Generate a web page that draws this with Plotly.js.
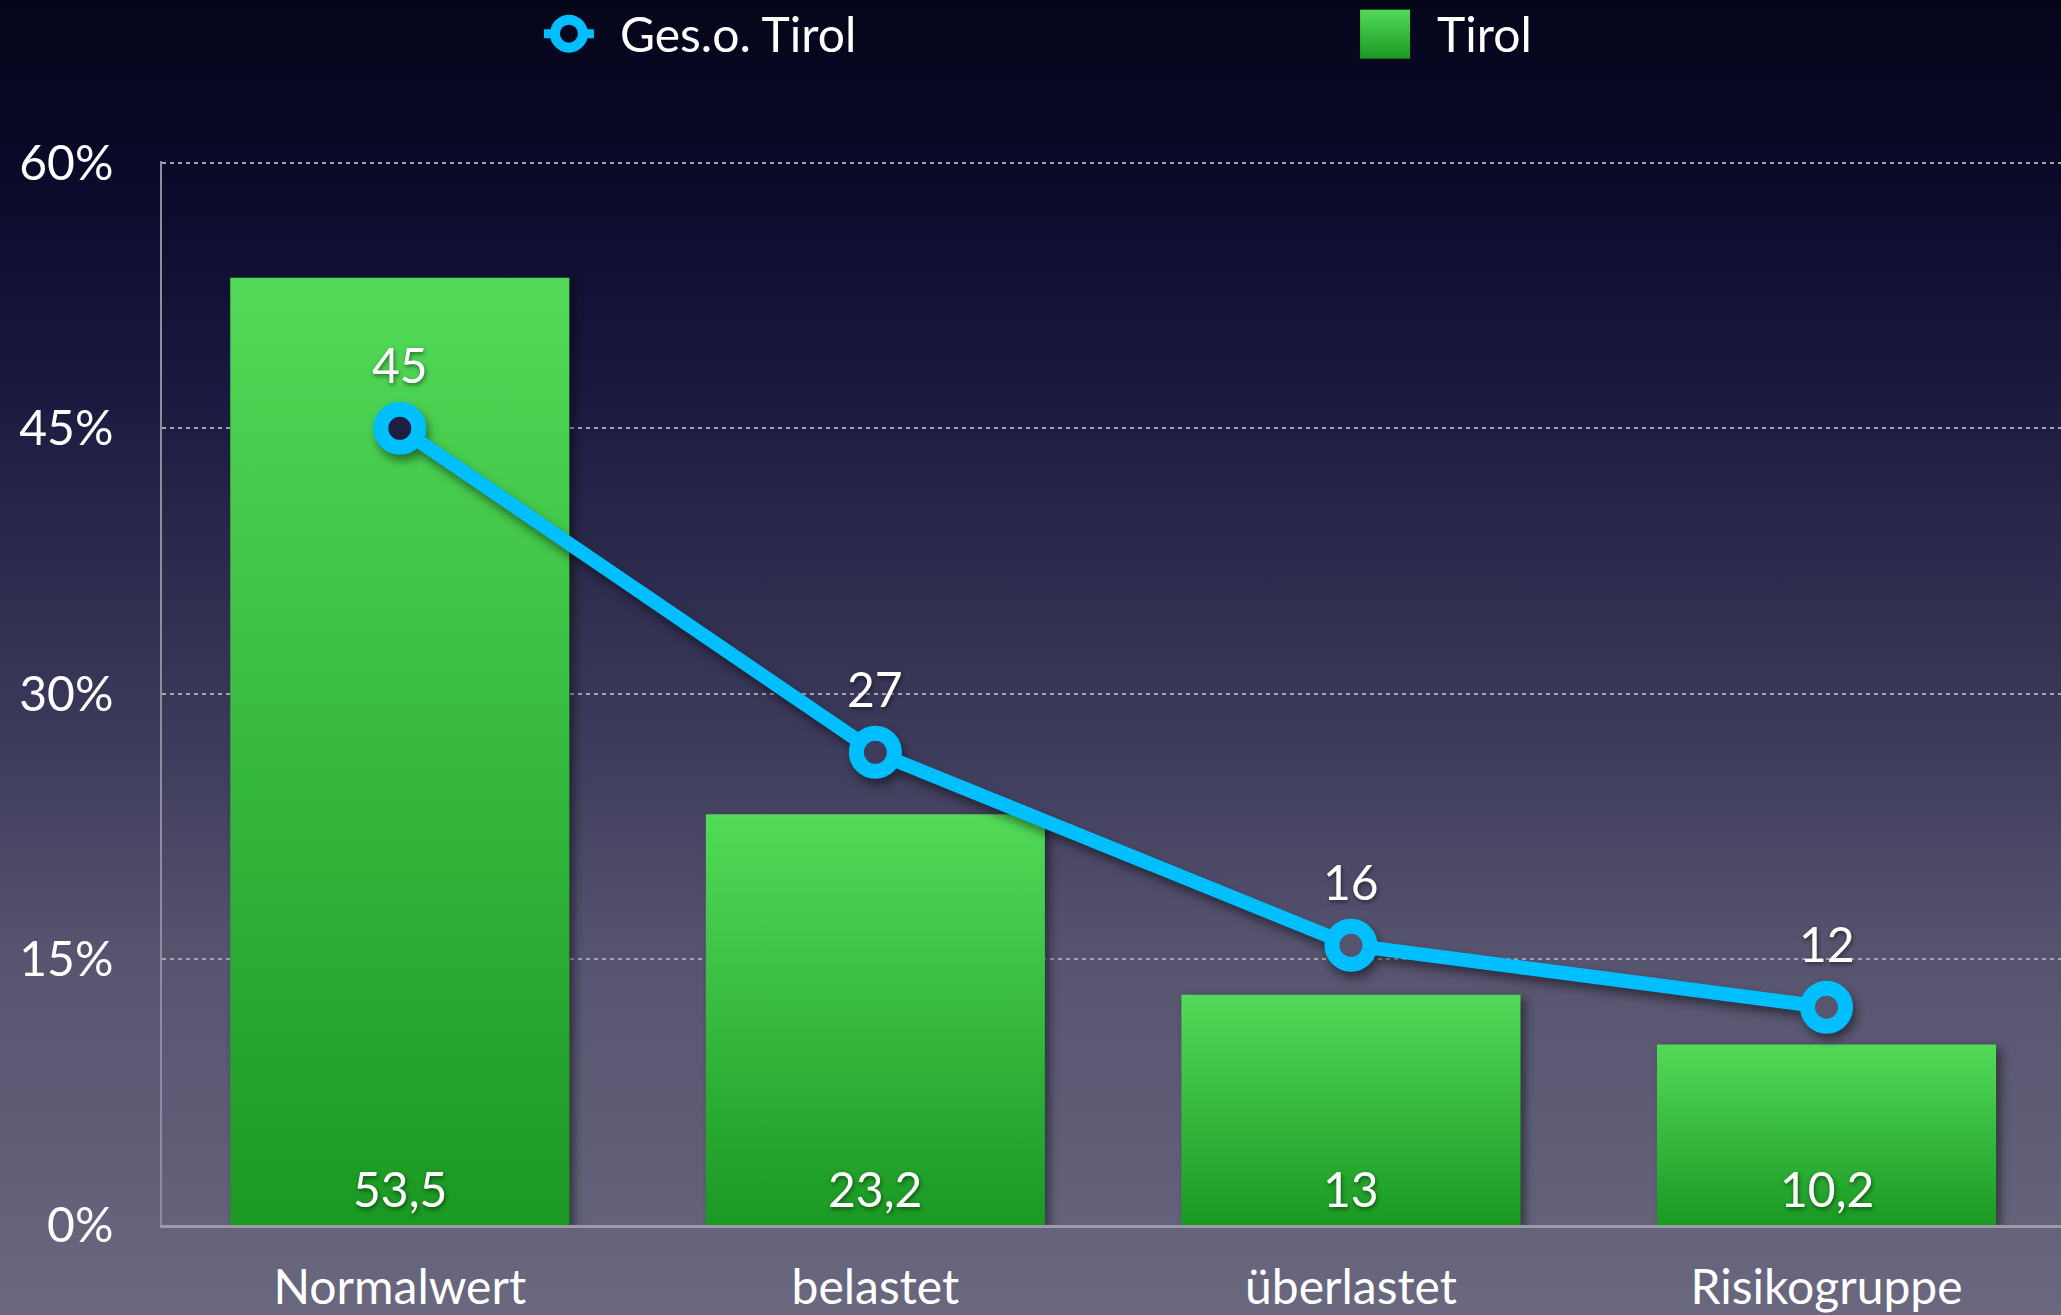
<!DOCTYPE html>
<html><head><meta charset="utf-8">
<script src="https://cdn.plot.ly/plotly-3.0.1.min.js"></script>
<style>
html,body{margin:0;padding:0;}
body{width:2061px;height:1315px;overflow:hidden;background:linear-gradient(to bottom,#05051a 0%,#0b0b2c 15%,#1a1a40 30%,#2c2a4c 42%,#3e3c5c 57%,#55536e 72%,#6a687f 100%);}
#chart{width:2061px;height:1315px;}
.barlayer .trace{filter:drop-shadow(5px 4px 5px rgba(0,0,0,0.45));}
.scatterlayer .trace{filter:drop-shadow(3px 6px 5px rgba(0,0,0,0.45));}
.annotation-text{filter:drop-shadow(1px 2px 2px rgba(0,0,0,0.5));}
</style></head><body><div id="chart"></div>
<script>
const categories = ['Normalwert', 'belastet', 'überlastet', 'Risikogruppe'];
const tirolValues = [53.5, 23.2, 13, 10.2];
const tirolLabels = ['53,5', '23,2', '13', '10,2'];
const gesoValues = [45, 26.7, 15.8, 12.3];
const gesoLabels = ['45', '27', '16', '12'];
const yTickValues = [0, 15, 30, 45, 60];
const yTickLabels = ['0%', '15%', '30%', '45%', '60%'];
const seriesNames = ['Ges.o. Tirol', 'Tirol'];

const CYAN = '#00bfff';
const FONT = 'Lato, "Open Sans", sans-serif';

const barTrace = {
  type: 'bar', name: seriesNames[1], x: categories, y: tirolValues,
  marker: {color: '#35b83c', line: {width: 0}},
  hoverinfo: 'skip', legend: 'legend2'
};
const lineTrace = {
  type: 'scatter', mode: 'lines+markers', name: seriesNames[0], x: categories, y: gesoValues,
  line: {color: CYAN, width: 14},
  marker: {size: 38, color: ['#1e1d42', '#3e3c5c', '#55536e', '#58566f'], line: {color: CYAN, width: 15}},
  hoverinfo: 'skip', legend: 'legend'
};

const annotations = [];
categories.forEach((c, i) => {
  annotations.push({x: c, y: 0, xref: 'x', yref: 'y', text: tirolLabels[i], showarrow: false,
    yanchor: 'middle', yshift: 37, font: {family: FONT, size: 48, color: '#ffffff'}});
  annotations.push({x: c, y: gesoValues[i], xref: 'x', yref: 'y', text: gesoLabels[i], showarrow: false,
    yanchor: 'middle', yshift: 64, font: {family: FONT, size: 48, color: '#ffffff'}});
});

const layout = {
  width: 2061, height: 1315,
  margin: {l: 162, r: 0, t: 161, b: 90, pad: 0, autoexpand: false},
  paper_bgcolor: 'rgba(0,0,0,0)', plot_bgcolor: 'rgba(0,0,0,0)',
  font: {family: FONT, size: 48, color: '#ffffff'},
  bargap: 0.287,
  showlegend: true,
  xaxis: {type: 'category', range: [-0.5, 3.493], showline: true, linecolor: '#9d9ca6', linewidth: 3,
    showgrid: false, zeroline: false, ticks: 'outside', ticklen: 18, tickcolor: 'rgba(0,0,0,0)',
    tickfont: {family: FONT, size: 48, color: '#ffffff'}, fixedrange: true, automargin: false},
  yaxis: {range: [0, 60.1], tickvals: yTickValues, ticktext: yTickLabels, showline: true, linecolor: '#8e8d99', linewidth: 2,
    showgrid: true, gridcolor: '#a6a5ae', gridwidth: 2, griddash: '4px,4px', zeroline: false,
    ticks: 'outside', ticklen: 37, tickcolor: 'rgba(0,0,0,0)',
    tickfont: {family: FONT, size: 48, color: '#ffffff'}, fixedrange: true, automargin: false},
  legend: {orientation: 'h', x: 0.2006, xanchor: 'left', y: 1.1194, yanchor: 'middle',
    itemwidth: 67, bgcolor: 'rgba(0,0,0,0)', font: {family: FONT, size: 48, color: '#ffffff'}},
  legend2: {orientation: 'h', x: 0.6309, xanchor: 'left', y: 1.1194, yanchor: 'middle',
    itemwidth: 67, bgcolor: 'rgba(0,0,0,0)', font: {family: FONT, size: 48, color: '#ffffff'}},
  annotations: annotations
};

const gd = document.getElementById('chart');
const NS = 'http://www.w3.org/2000/svg';

function decorate() {
  const svg = gd.querySelector('svg.main-svg');
  if (!document.getElementById('gGreen')) {
    let defs = svg.querySelector('defs');
    const lg = document.createElementNS(NS, 'linearGradient');
    lg.setAttribute('id', 'gGreen');
    lg.setAttribute('x1', '0'); lg.setAttribute('y1', '0'); lg.setAttribute('x2', '0'); lg.setAttribute('y2', '1');
    [['0', '#53da58'], ['1', '#1a9923']].forEach(([o, c]) => {
      const s = document.createElementNS(NS, 'stop');
      s.setAttribute('offset', o); s.setAttribute('stop-color', c);
      lg.appendChild(s);
    });
    defs.appendChild(lg);
  }
  gd.querySelectorAll('.barlayer .point path').forEach(p => { p.style.fill = 'url(#gGreen)'; });

  gd.querySelectorAll('.infolayer g.traces').forEach(tr => {
    const txt = tr.querySelector('text');
    if (!txt) return;
    const tx = parseFloat(txt.getAttribute('x')) || 40;
    Array.from(tr.children).forEach(ch => {
      if (ch.tagName.toLowerCase() === 'g' && !ch.classList.contains('customsym')) ch.style.display = 'none';
    });
    const old = tr.querySelector('g.customsym');
    if (old) old.remove();
    const g = document.createElementNS(NS, 'g');
    g.setAttribute('class', 'customsym');
    const label = (txt.textContent || '').trim();
    if (label === seriesNames[1]) {
      const cx = tx - 52;
      const r = document.createElementNS(NS, 'rect');
      r.setAttribute('x', cx - 25); r.setAttribute('y', -24);
      r.setAttribute('width', 50); r.setAttribute('height', 49);
      r.setAttribute('fill', 'url(#gGreen)');
      g.appendChild(r);
    } else {
      const cx = tx - 51;
      const l = document.createElementNS(NS, 'path');
      l.setAttribute('d', `M${cx - 25},0H${cx + 25}`);
      l.setAttribute('stroke', CYAN); l.setAttribute('stroke-width', 9);
      g.appendChild(l);
      const c = document.createElementNS(NS, 'circle');
      c.setAttribute('cx', cx); c.setAttribute('cy', 0); c.setAttribute('r', 14);
      c.setAttribute('fill', '#06061c'); c.setAttribute('stroke', CYAN); c.setAttribute('stroke-width', 10);
      g.appendChild(c);
    }
    tr.appendChild(g);
  });
}

Plotly.newPlot(gd, [barTrace, lineTrace], layout, {displayModeBar: false, staticPlot: true}).then(() => {
  decorate();
  gd.on('plotly_afterplot', decorate);
  setTimeout(decorate, 200);
  setTimeout(decorate, 800);
});
</script></body></html>
